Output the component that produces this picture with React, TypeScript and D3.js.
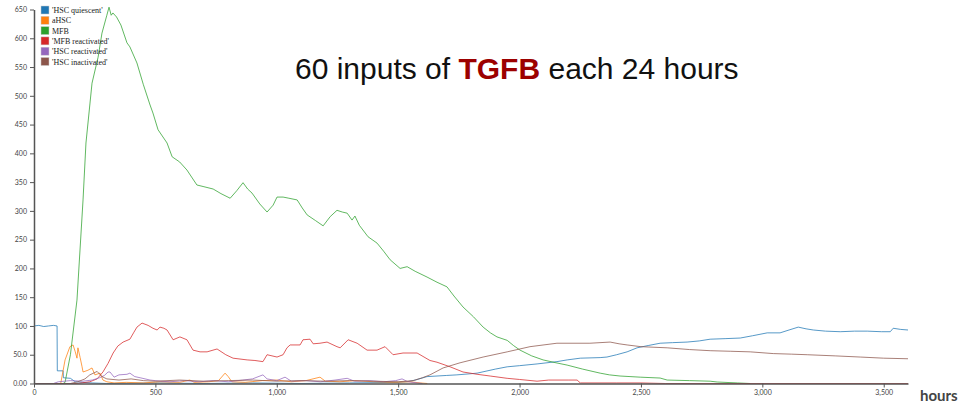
import React, { useEffect, useRef } from 'react';
import * as d3 from 'd3';

// hours, value pairs
const hscQuiescent: [number, number][] = [
	[0, 100], [20, 101], [40, 99], [60, 100], [80, 101], [95, 100], [96, 22], [120, 22], [121, 10], [150, 9], [170, 3],
	[200, 2], [240, 1], [300, 0], [500, 1], [700, 0], [900, 1], [1100, 0], [1300, 1], [1500, 2], [1537, 3], [1570, 6],
	[1619, 12], [1700, 14], [1742, 15], [1800, 17], [1825, 18], [1900, 25], [1949, 29], [2000, 31], [2072, 34], [2154, 38],
	[2196, 41], [2250, 44], [2332, 45], [2360, 46], [2400, 50], [2443, 55], [2484, 62], [2530, 66], [2579, 70], [2630, 71],
	[2690, 72], [2740, 74], [2785, 77], [2850, 78], [2909, 79], [2960, 83], [3020, 88], [3073, 88], [3110, 93], [3148, 98],
	[3180, 95], [3210, 93], [3260, 91], [3321, 90], [3380, 91], [3432, 91], [3490, 90], [3527, 90], [3539, 96], [3570, 94],
	[3600, 93],
];
const aHsc: [number, number][] = [
	[0, 0], [110, 0], [128, 41], [148, 64], [161, 67], [170, 55], [177, 44], [181, 62], [190, 45], [198, 29], [202, 20],
	[222, 23], [239, 27], [251, 15], [272, 18], [284, 6], [300, 3], [330, 1], [380, 2], [450, 1], [520, 3], [600, 2],
	[642, 6], [660, 2], [720, 3], [760, 5], [787, 18], [800, 12], [815, 3], [870, 2], [940, 5], [1000, 6], [1060, 3],
	[1120, 5], [1178, 11], [1200, 4], [1260, 3], [1320, 5], [1400, 3], [1480, 2], [1550, 3], [1590, 1], [1620, 0],
];
const mfb: [number, number][] = [
	[0, 0], [120, 0], [128, 2], [150, 50], [177, 145], [202, 319], [214, 418], [239, 522], [264, 567], [280, 609],
	[300, 640], [309, 654], [318, 640], [325, 644], [340, 637], [358, 623], [383, 592], [395, 585], [424, 557], [450, 520],
	[478, 484], [490, 470], [511, 441], [548, 418], [569, 394], [600, 385], [630, 371], [671, 345], [700, 342], [738, 338],
	[770, 330], [808, 322], [835, 335], [861, 349], [880, 338], [898, 331], [930, 312], [960, 298], [985, 310], [1001, 324],
	[1026, 324], [1050, 322], [1084, 319], [1105, 305], [1125, 293], [1160, 283], [1191, 274], [1220, 290], [1248, 301],
	[1270, 298], [1290, 296], [1310, 284], [1322, 291], [1340, 275], [1376, 255], [1413, 244], [1440, 230], [1467, 215],
	[1508, 200], [1537, 203], [1570, 195], [1619, 185], [1660, 176], [1701, 168], [1730, 152], [1767, 133], [1810, 116],
	[1850, 98], [1880, 88], [1907, 81], [1949, 75], [1975, 66], [2002, 58], [2050, 48], [2097, 41], [2150, 36], [2196, 32],
	[2260, 25], [2332, 18], [2370, 15], [2414, 13], [2497, 11], [2579, 9.5], [2608, 6], [2700, 5], [2785, 4], [2814, 2.6],
	[2897, 1], [2950, 0],
];
const mfbReactivated: [number, number][] = [
	[0, 0], [177, 0], [230, 3], [260, 8], [284, 20], [305, 35], [326, 53], [345, 65], [367, 72], [395, 77], [410, 88],
	[424, 98], [445, 105], [470, 101], [490, 96], [507, 93], [519, 98], [535, 96], [548, 93], [573, 76], [601, 81],
	[630, 76], [655, 58], [684, 55], [713, 55], [754, 60], [790, 50], [820, 44], [878, 41], [910, 40], [943, 38], [960, 50],
	[1001, 46], [1026, 50], [1042, 62], [1055, 67], [1096, 67], [1108, 76], [1137, 77], [1150, 69], [1178, 70], [1207, 72],
	[1248, 64], [1261, 62], [1294, 76], [1331, 70], [1372, 58], [1413, 58], [1446, 64], [1479, 50], [1520, 53], [1578, 53],
	[1631, 40], [1660, 37], [1714, 29], [1767, 20], [1825, 16], [1879, 13], [1949, 9], [2000, 7], [2072, 4], [2120, 6],
	[2200, 6], [2237, 6], [2250, 1], [2400, 1], [2500, 1], [2600, 0], [3600, 0],
];
const hscReactivated: [number, number][] = [
	[0, 0], [80, 0], [100, 3], [150, 5], [200, 4], [240, 6], [270, 10], [290, 14], [305, 20], [313, 20], [330, 11],
	[350, 15], [383, 16], [395, 18], [415, 12], [437, 10], [478, 6], [520, 4], [560, 3], [620, 5], [680, 3], [740, 5],
	[800, 3], [860, 6], [900, 8], [943, 15], [960, 8], [1000, 5], [1034, 11], [1060, 4], [1120, 5], [1180, 3], [1240, 6],
	[1290, 9], [1320, 4], [1380, 5], [1440, 3], [1490, 5], [1516, 8], [1540, 3], [1580, 1], [1600, 0],
];
const hscInactivated: [number, number][] = [
	[0, 0], [150, 0], [180, 3], [210, 8], [230, 15], [260, 21], [280, 12], [300, 8], [350, 6], [400, 8], [450, 5],
	[500, 4], [600, 6], [700, 4], [800, 5], [900, 6], [1000, 4], [1100, 5], [1200, 4], [1300, 5], [1400, 4], [1500, 3],
	[1562, 5], [1600, 10], [1631, 15], [1685, 27], [1755, 36], [1850, 46], [1949, 55], [2043, 64], [2154, 70], [2290, 70],
	[2373, 72], [2410, 69], [2443, 67], [2500, 64], [2608, 62], [2700, 59], [2785, 57], [2870, 56], [2950, 55], [3045, 52],
	[3120, 51], [3185, 50], [3300, 48], [3403, 46], [3500, 44], [3600, 43],
];

const seriesNames = ["'HSC quiescent'", 'aHSC', 'MFB', "'MFB reactivated'", "'HSC reactivated'", "'HSC inactivated'"];
const seriesData = [hscQuiescent, aHsc, mfb, mfbReactivated, hscReactivated, hscInactivated];
const xTicks = [0, 500, 1000, 1500, 2000, 2500, 3000, 3500];
const yTicks = [0, 50, 100, 150, 200, 250, 300, 350, 400, 450, 500, 550, 600, 650];

const colors = d3.schemeCategory10;
const tickFont = 'Lato, sans-serif';

const XAxis = ({ scale, top }) => {
	const axis = useRef(null);
	useEffect(() => {
		const g = d3.select(axis.current);
		g.call(d3.axisBottom(scale).tickValues(xTicks).tickFormat(d3.format(',')).tickSize(4).tickSizeOuter(0));
		g.selectAll('text').attr('font-family', tickFont).attr('font-size', 7).attr('fill', '#444');
		g.selectAll('line').attr('stroke', '#555');
		g.select('.domain').attr('stroke', '#555').attr('stroke-width', 1.5);
	}, []);
	return <g ref={axis} transform={`translate(0, ${top})`} />;
};

const YAxis = ({ scale, left }) => {
	const axis = useRef(null);
	useEffect(() => {
		const g = d3.select(axis.current);
		g.call(d3.axisLeft(scale).tickValues(yTicks).tickFormat(d3.format('.3r')).tickSize(4).tickSizeOuter(0));
		g.selectAll('text').attr('font-family', tickFont).attr('font-size', 7).attr('fill', '#444');
		g.selectAll('line').attr('stroke', '#555');
		g.select('.domain').attr('stroke', '#555').attr('stroke-width', 1.5);
	}, []);
	return <g ref={axis} transform={`translate(${left}, 0)`} />;
};

const App = () => {
	const width = 965;
	const height = 405;
	const x = d3.scaleLinear().domain([0, 3600]).range([34, 908]);
	const y = d3.scaleLinear().domain([0, 650]).range([383.5, 9.5]);
	const line = d3.line<[number, number]>().x((d) => x(d[0])).y((d) => y(d[1]));

	return (
		<svg width={width} height={height} style={{ position: 'absolute', left: 0, top: 0, background: '#fff' }}>
			<g fill="none" strokeWidth={1} strokeOpacity={0.75}>
				{seriesData.map((s, i) => (
					<path key={seriesNames[i]} d={line(s)} stroke={colors[i]} />
				))}
			</g>
			<XAxis scale={x} top={383.5} />
			<YAxis scale={y} left={34} />
			<g>
				{seriesNames.map((n, i) => (
					<g key={n} transform={`translate(41, ${6 + i * 10.3})`}>
						<rect width={8} height={8} fill={colors[i]} stroke="#ccc" strokeWidth={0.5} />
						<text x={11} y={7} fontFamily="'Liberation Serif', serif" fontSize={8} fill="#222">{n}</text>
					</g>
				))}
			</g>
			<text x={295} y={79} fontFamily="'Liberation Sans', Arial, sans-serif" fontSize={30} fill="#111">
				60 inputs of <tspan fill="#9c0000" fontWeight="bold">TGFB</tspan> each 24 hours
			</text>
			<text x={920} y={401} fontFamily="Lato, sans-serif" fontWeight="bold" fontSize={15} fill="#444">hours</text>
		</svg>
	);
};

export default App;
